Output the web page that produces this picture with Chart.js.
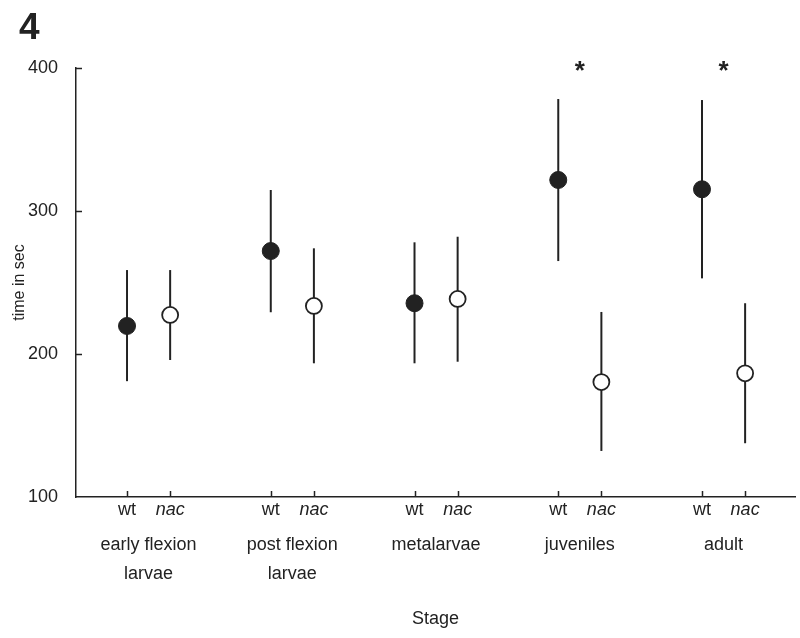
<!DOCTYPE html>
<html>
<head>
<meta charset="utf-8">
<script src="https://cdn.jsdelivr.net/npm/chart.js@4/dist/chart.umd.min.js"></script>
<style>
  html, body { margin: 0; padding: 0; background: #fff; }
  #wrap { width: 800px; height: 638px; }
</style>
</head>
<body>
<div id="wrap"><canvas id="c" width="800" height="638"></canvas></div>
<script>
// ---- data ----
const stages = [['early flexion', 'larvae'], ['post flexion', 'larvae'], ['metalarvae'], ['juveniles'], ['adult']];
const groupLabels = ['wt', 'nac'];
const wtMean = [219.6, 272.0, 235.5, 321.7, 315.2];
const wtLow  = [181.0, 229.2, 193.5, 265.0, 252.9];
const wtHigh = [258.7, 314.7, 278.1, 378.3, 377.6];
const nacMean = [227.3, 233.6, 238.5, 180.4, 186.5];
const nacLow  = [195.8, 193.5, 194.6, 132.2, 137.6];
const nacHigh = [258.7, 273.9, 282.0, 229.4, 235.5];
const significant = [false, false, false, true, true];
const yTicks = [100, 200, 300, 400];
const panelLabel = '4';

// ---- layout helpers ----
const pairGap = 0.3;
const INK = '#222';
const FONT = "'Liberation Sans', Arial, Helvetica, sans-serif";

const wtPts = wtMean.map((v, i) => ({ x: i, y: v, lo: wtLow[i], hi: wtHigh[i] }));
const nacPts = nacMean.map((v, i) => ({ x: i + pairGap, y: v, lo: nacLow[i], hi: nacHigh[i] }));
const tickPositions = [];
stages.forEach((s, i) => { tickPositions.push(i, i + pairGap); });
const groupCenters = stages.map((s, i) => i + pairGap / 2);

const errorBars = {
  id: 'errorBars',
  beforeDatasetsDraw(chart) {
    const ctx = chart.ctx;
    const xs = chart.scales.x, ys = chart.scales.y;
    ctx.save();
    ctx.strokeStyle = INK;
    ctx.lineWidth = 2;
    chart.data.datasets.forEach(ds => {
      ds.data.forEach(p => {
        const px = xs.getPixelForValue(p.x);
        ctx.beginPath();
        ctx.moveTo(px, ys.getPixelForValue(p.lo));
        ctx.lineTo(px, ys.getPixelForValue(p.hi));
        ctx.stroke();
      });
    });
    ctx.restore();
  }
};

const decorations = {
  id: 'decorations',
  afterDraw(chart) {
    const ctx = chart.ctx;
    const xs = chart.scales.x, ys = chart.scales.y;
    const area = chart.chartArea;
    ctx.save();
    ctx.strokeStyle = INK;
    ctx.lineWidth = 1.5;
    // inward tick marks on x axis
    tickPositions.forEach(v => {
      const px = Math.round(xs.getPixelForValue(v)) + 0.5;
      ctx.beginPath();
      ctx.moveTo(px, area.bottom);
      ctx.lineTo(px, area.bottom - 6);
      ctx.stroke();
    });
    // inward tick marks on y axis
    yTicks.forEach(v => {
      if (v === ys.min) return;
      const py = Math.round(ys.getPixelForValue(v)) + 0.5;
      ctx.beginPath();
      ctx.moveTo(area.left, py);
      ctx.lineTo(area.left + 6, py);
      ctx.stroke();
    });
    // significance asterisks
    ctx.fillStyle = INK;
    ctx.textAlign = 'center';
    ctx.textBaseline = 'alphabetic';
    ctx.font = 'bold 26px ' + FONT;
    significant.forEach((s, i) => {
      if (!s) return;
      ctx.fillText('*', xs.getPixelForValue(groupCenters[i]), ys.getPixelForValue(ys.max) + 11);
    });
    // panel label
    ctx.textAlign = 'left';
    ctx.font = 'bold 37px ' + FONT;
    ctx.fillText(panelLabel, 19, 39);
    ctx.restore();
  }
};

const xMin = -0.355, xMax = 4.647;
const noSidePad = s => { s.paddingLeft = 0; s.paddingRight = 0; };

new Chart(document.getElementById('c'), {
  type: 'scatter',
  data: {
    datasets: [
      { label: 'wt', data: wtPts, pointRadius: 8.5, pointHoverRadius: 8.5,
        pointBackgroundColor: INK, pointBorderColor: INK, pointBorderWidth: 1 },
      { label: 'nac', data: nacPts, pointRadius: 8, pointHoverRadius: 8,
        pointBackgroundColor: '#fff', pointBorderColor: INK, pointBorderWidth: 1.8 }
    ]
  },
  options: {
    responsive: false,
    animation: false,
    events: [],
    layout: { autoPadding: false, padding: { top: 68, right: 5, left: 0, bottom: 0 } },
    plugins: { legend: { display: false }, tooltip: { enabled: false }, title: { display: false } },
    scales: {
      x: {
        type: 'linear', position: 'bottom', min: xMin, max: xMax, weight: 0,
        afterBuildTicks: s => { s.ticks = tickPositions.map(v => ({ value: v })); },
        afterFit: s => { s.height = 30; noSidePad(s); },
        grid: { display: true, drawOnChartArea: false, drawTicks: false },
        border: { display: true, color: INK, width: 1.5 },
        ticks: {
          autoSkip: false, maxRotation: 0, padding: 2, color: INK,
          font: c => ({ family: FONT, size: 18, style: (c.index % 2) ? 'italic' : 'normal' }),
          callback: (v, i) => groupLabels[i % 2]
        }
      },
      xg: {
        type: 'linear', position: 'bottom', min: xMin, max: xMax, weight: 1,
        afterBuildTicks: s => { s.ticks = groupCenters.map(v => ({ value: v })); },
        afterFit: s => { s.height = 111; noSidePad(s); },
        grid: { display: false, drawTicks: false },
        border: { display: false },
        ticks: {
          autoSkip: false, maxRotation: 0, padding: 4, color: INK,
          font: { family: FONT, size: 18, lineHeight: '29px' },
          callback: (v, i) => stages[i]
        },
        title: { display: true, text: 'Stage', color: INK, font: { family: FONT, size: 18 }, padding: { top: 0, bottom: 8 } }
      },
      y: {
        type: 'linear', min: 100, max: 400,
        afterBuildTicks: s => { s.ticks = yTicks.map(v => ({ value: v })); },
        afterFit: s => { s.width = 76; s.paddingTop = 0; s.paddingBottom = 0; },
        grid: { display: true, drawOnChartArea: false, drawTicks: false },
        border: { display: true, color: INK, width: 1.5 },
        ticks: { padding: 18, color: INK, font: { family: FONT, size: 18 } },
        title: { display: true, text: 'time in sec', color: INK, font: { family: FONT, size: 16 }, padding: 10 }
      }
    }
  },
  plugins: [errorBars, decorations]
});
</script>
</body>
</html>
